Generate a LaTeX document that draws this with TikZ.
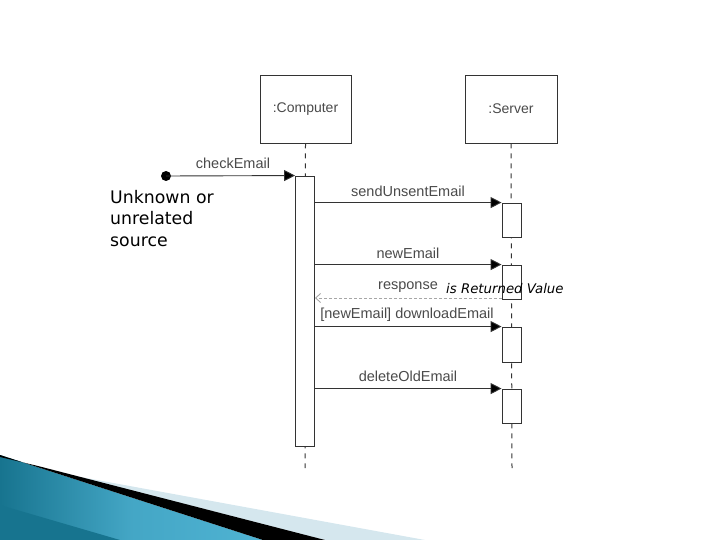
\documentclass[tikz,border=0pt]{standalone}
\usepackage{fontspec}
\setmainfont{Liberation Sans}
\newfontfamily\notefont{DejaVu Sans}
\usetikzlibrary{arrows.meta,shadings}
\definecolor{linegray}{HTML}{333333}
\definecolor{textgray}{HTML}{4A4A4A}
\definecolor{tealdark}{HTML}{17748F}
\definecolor{teallight}{HTML}{4FB3D3}
\definecolor{paleblue}{HTML}{D5E7EE}
\tikzset{
  objbox/.style={draw=linegray, line width=0.9pt, fill=white, minimum width=91pt, minimum height=68pt, inner sep=0pt, font=\fontsize{14}{16}\selectfont, text=textgray},
  lifeline/.style={draw=linegray, line width=1pt, dash pattern=on 5pt off 5pt},
  actbox/.style={draw=linegray, line width=0.9pt, fill=white, minimum width=19pt, inner sep=0pt},
  msg/.style={draw=linegray, line width=0.9pt, -{Triangle[length=11pt,width=11pt,fill=black]}},
  retmsg/.style={draw=gray!70, line width=0.9pt, dash pattern=on 3pt off 2pt, -{Straight Barb[length=5pt,width=9pt]}},
  mlabel/.style={font=\fontsize{14.5}{16}\selectfont, text=textgray, inner sep=0pt},
  srcdot/.style={circle, fill=black, minimum size=10pt, inner sep=0pt}
}
\begin{document}
\begin{tikzpicture}[x=1pt,y=-1pt]
\useasboundingbox (0,0) rectangle (720,540);
% bottom decoration
\shade[left color=tealdark, right color=teallight, middle color=teallight!80!tealdark] (0,455) -- (263,540) -- (0,540) -- cycle;
\fill[tealdark] (0,505) -- (120,540) -- (0,540) -- cycle;
\fill[paleblue] (75,476) -- (425,540) -- (325,540) -- cycle;
\fill[black] (38,466) -- (325,540) -- (263,540) -- (0,455) -- (0,457) -- cycle;
% objects
\node[objbox] (comp) at (305.5,109) {:Computer};
\node[objbox, minimum width=92pt] (serv) at (511,109) {:Server};
\coordinate (compEnd) at (305,468);
\coordinate (servEnd) at (512,468);
\draw[lifeline] (comp.south) -- (compEnd);
\draw[lifeline] (serv.south) -- (servEnd);
% activations
\node[actbox, minimum height=270pt] (cact) at (305,311) {};
\node[actbox, minimum height=34pt] (a1) at (511.5,220) {};
\node[actbox, minimum height=34pt] (a2) at (511.5,282) {};
\node[actbox, minimum height=35pt] (a3) at (511.5,344.5) {};
\node[actbox, minimum height=34pt] (a4) at (511.5,406) {};
% found message
\node[srcdot] (src) at (166,176) {};
\draw[msg] (src.center) -- (cact.north west);
\node[mlabel] (l0) at (233,163) {checkEmail};
% messages
\draw[msg] (cact.east |- a1.north west) -- (a1.north west);
\node[mlabel] (l1) at (408,191) {sendUnsentEmail};
\draw[msg] (cact.east |- a2.north west) -- (a2.north west);
\node[mlabel] (l2) at (408,253) {newEmail};
\coordinate (r0) at (502,298);
\draw[retmsg] (r0) -- (cact.east |- r0);
\node[mlabel] (l3) at (408,287) {response};
\draw[msg] (cact.east |- a3.north west) -- (a3.north west);
\node[mlabel] (l4) at (407,315) {[newEmail] downloadEmail};
\draw[msg] (cact.east |- a4.north west) -- (a4.north west);
\node[mlabel] (l5) at (408,376) {deleteOldEmail};
% annotations
\node[anchor=west, inner sep=0pt, font=\notefont\itshape\fontsize{13.3}{15}\selectfont] (note2) at (446,289) {is Returned Value};
\node[anchor=north west, inner sep=0pt, align=left, font=\notefont\fontsize{17.3}{21.5}\selectfont] (note1) at (110,190) {Unknown or\\unrelated\\source};
\end{tikzpicture}
\end{document}
